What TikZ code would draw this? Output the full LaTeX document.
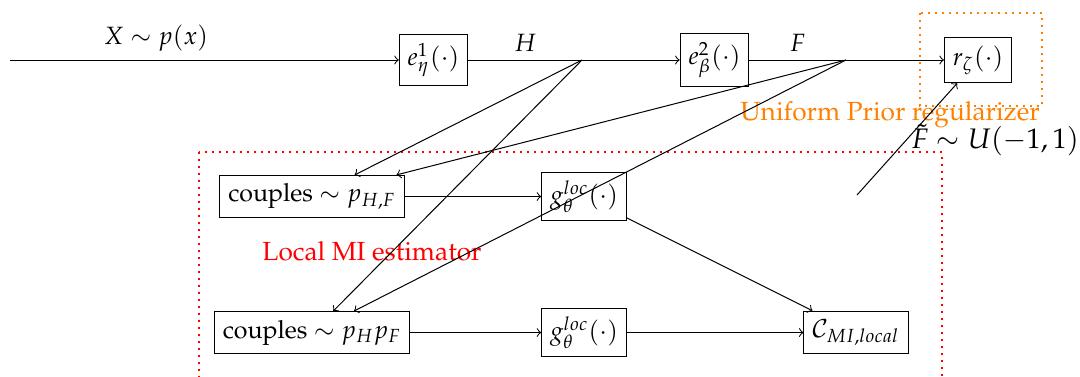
\documentclass[tikz,border=0pt]{standalone}
\usepackage[T1]{fontenc}
\usepackage{mathpazo}
\usetikzlibrary{arrows}
\begin{document}
\begin{tikzpicture}[x=0.4pt,y=-0.4pt,
  blk/.style={draw,inner sep=3.33pt},
  conn/.style={->},
  lbl/.style={font=\fontsize{10.5}{12}\selectfont}]
\useasboundingbox (0,0) rectangle (1080,376);
\clip (0,0) rectangle (1080,376);
% coordinates
\coordinate (in) at (10,60);
\coordinate (xmid) at (302,60);
\coordinate (hpt) at (582,60);
\coordinate (fpt) at (846,60);
\coordinate (ftil) at (857,195);
% nodes
\node[blk] (e1) at (433.5,60) {$e^1_\eta(\cdot)$};
\node[blk] (e2) at (714.5,60) {$e^2_\beta(\cdot)$};
\node[blk] (r) at (978,60) {$r_\zeta(\cdot)$};
\node[blk] (c1) at (312,196.5) {couples $\sim p_{H,F}$};
\node[blk] (c2) at (312,332.5) {couples $\sim p_H p_F$};
\node[blk] (g1) at (584,196.5) {$g^{loc}_\theta(\cdot)$};
\node[blk] (g2) at (584,332.5) {$g^{loc}_\theta(\cdot)$};
\node[blk] (cmi) at (856,332.5) {$\mathcal{C}_{MI,local}$};
% frames
\draw[orange,thick,dotted] (920,13) rectangle (1042,106);
\draw[red,thick,dotted] (199,152) rectangle (942,400);
\node[lbl,text=orange] (lblu) at (890,115) {Uniform Prior regularizer};
\node[lbl,text=red] (lbll) at (372,251) {Local MI estimator};
\node[font=\fontsize{11.3}{13}\selectfont] (lblf) at (995,140) {$\tilde{F}\sim U(-1,1)$};
% connectors
\draw (in) -- node[above] {$X\sim p(x)$} (xmid);
\draw[conn] (xmid) -- (e1);
\draw (e1) -- node[above] {$H$} (hpt);
\draw[conn] (hpt) -- (e2);
\draw (e2) -- node[above] {$F$} (fpt);
\draw[conn] (fpt) -- (r);
\draw[conn] (ftil) -- (r);
\draw[conn] (hpt) -- (c1);
\draw[conn] (hpt) -- (c2);
\draw[conn] (fpt) -- (c1);
\draw[conn] (fpt) -- (c2);
\draw[conn] (c1) -- (g1);
\draw[conn] (c2) -- (g2);
\draw[conn] (g1) -- (cmi);
\draw[conn] (g2) -- (cmi);
\end{tikzpicture}
\end{document}
